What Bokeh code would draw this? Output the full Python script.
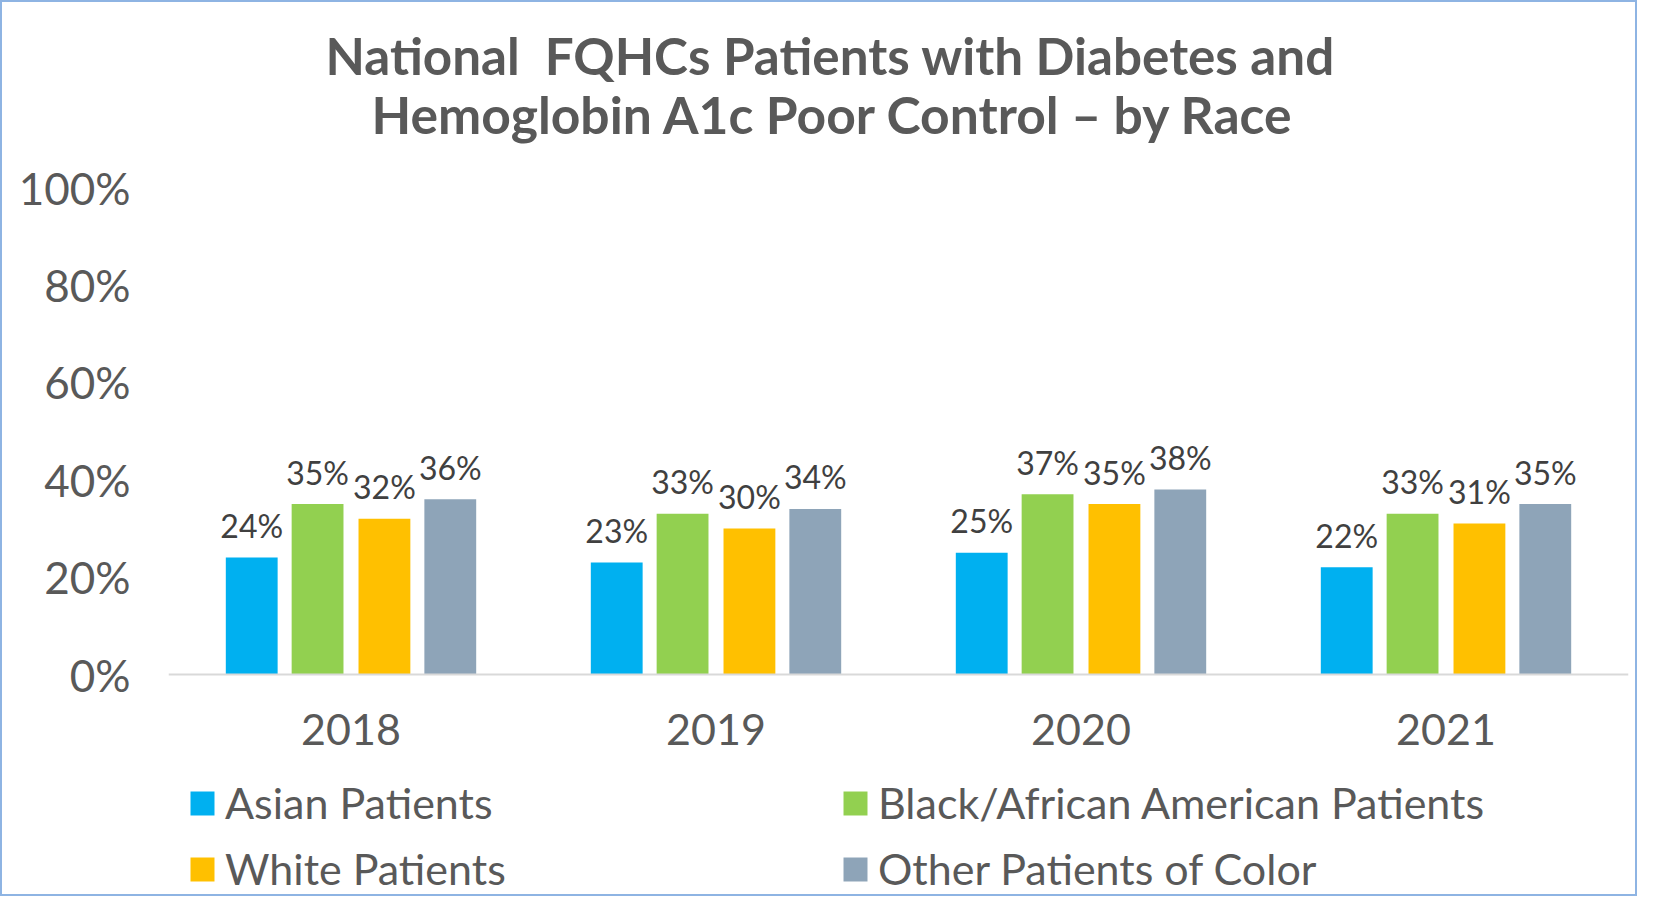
from bokeh.plotting import figure
from bokeh.models import (ColumnDataSource, FactorRange, FixedTicker, NumeralTickFormatter,
                          Legend, LegendItem, Title, Range1d)
from bokeh.transform import dodge
from bokeh.core.properties import value
from bokeh.embed import file_html
from bokeh.resources import INLINE

years = ["2018", "2019", "2020", "2021"]
series_names = ["Asian Patients", "Black/African American Patients", "White Patients", "Other Patients of Color"]
asian = [24, 23, 25, 22]
black = [35, 33, 37, 33]
white = [32, 30, 35, 31]
other = [36, 34, 38, 35]
colors = ["#00B0F0", "#92D050", "#FFC000", "#8EA4B8"]
y_ticks = [0, 0.2, 0.4, 0.6, 0.8, 1.0]
title_lines = ["National \u00a0FQHCs Patients with Diabetes and", "Hemoglobin A1c Poor Control \u2013 by Race"]

FONT = "Lato"
W, H = 1637, 896
PX_PER_UNIT = 487.0
FRAME_TOP = 185
ZERO_Y = 672
y_start = -(H - ZERO_Y) / PX_PER_UNIT

p = figure(x_range=FactorRange(factors=years, range_padding=0), y_range=Range1d(y_start, 1.0),
           width=W, height=H, output_backend="svg", toolbar_location=None,
           min_border_left=166, min_border_right=11, min_border_top=FRAME_TOP, min_border_bottom=0)
p.styles = {"border": "2px solid #8EB4E3"}
p.outline_line_color = None
p.xgrid.grid_line_color = None
p.ygrid.grid_line_color = None

offsets = [-0.272, -0.0916, 0.0916, 0.272]
series = [asian, black, white, other]
renderers = []
for vals, off, col in zip(series, offsets, colors):
    src = ColumnDataSource(dict(year=years, y=[v / 100 for v in vals], lab=[f"{v}%" for v in vals]))
    r = p.vbar(x=dodge("year", off, range=p.x_range), top="y", width=0.142, source=src,
               fill_color=col, line_color=None)
    renderers.append(r)
    p.text(x=dodge("year", off, range=p.x_range), y="y", text="lab", source=src,
           text_align="center", text_baseline="alphabetic", y_offset=-32,
           text_font=value(FONT), text_font_size="32px", text_color="#404040")

# axes
p.yaxis.ticker = FixedTicker(ticks=y_ticks)
p.yaxis.formatter = NumeralTickFormatter(format="0%")
p.yaxis.axis_line_color = None
p.yaxis.major_tick_line_color = None
p.yaxis.minor_tick_line_color = None
p.yaxis.major_tick_out = 0
p.yaxis.major_label_standoff = 38
p.yaxis.major_label_text_font = FONT
p.yaxis.major_label_text_font_size = "44px"
p.yaxis.major_label_text_color = "#595959"

p.xaxis.fixed_location = 0
p.xaxis.axis_line_color = "#D9D9D9"
p.xaxis.axis_line_width = 2
p.xaxis.major_tick_line_color = None
p.xaxis.minor_tick_line_color = None
p.xaxis.major_tick_out = 0
p.xaxis.major_label_standoff = 39
p.xaxis.major_label_text_font = FONT
p.xaxis.major_label_text_font_size = "43px"
p.xaxis.major_label_text_color = "#595959"

# legend (column-major grid: order so that rows read Asian/Black, White/Other)
order = [0, 2, 1, 3]
items = [LegendItem(label=series_names[i], renderers=[renderers[i]]) for i in order]
legend = Legend(items=items, ncols=2, location=(19, 4),
                label_text_font=FONT, label_text_font_size="43px", label_text_color="#595959",
                glyph_width=30, glyph_height=30, label_standoff=8, label_width=600,
                spacing=15, padding=0, margin=0, border_line_color=None,
                background_fill_alpha=0)
p.add_layout(legend, "center")

# title (two lines)
t2 = Title(text=title_lines[1], align="left", offset=203, standoff=85,
           text_font=FONT, text_font_size="51.6px", text_font_style="bold", text_color="#595959")
t1 = Title(text=title_lines[0], align="left", offset=157, standoff=-94,
           text_font=FONT, text_font_size="51.2px", text_font_style="bold", text_color="#595959")
p.add_layout(t2, "above")
p.add_layout(t1, "above")

open("out.html", "w").write(file_html(p, INLINE))
